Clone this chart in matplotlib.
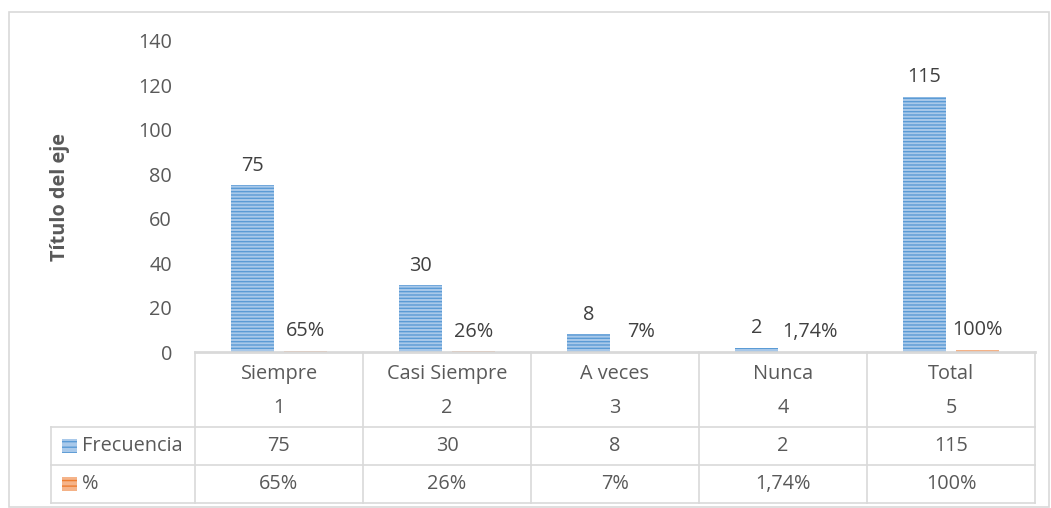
import matplotlib
matplotlib.use("Agg")
import matplotlib.pyplot as plt
from matplotlib.patches import Rectangle
from matplotlib.transforms import blended_transform_factory

categories = ["Siempre", "Casi Siempre", "A veces", "Nunca", "Total"]
numbers = ["1", "2", "3", "4", "5"]
frecuencia = [75, 30, 8, 2, 115]
porcentaje = [0.65, 0.26, 0.07, 0.0174, 1.0]
frec_labels = ["75", "30", "8", "2", "115"]
pct_labels = ["65%", "26%", "7%", "1,74%", "100%"]
series_names = ["Frecuencia", "%"]
yticks = [0, 20, 40, 60, 80, 100, 120, 140]

BLUE = "#5b9bd5"
BLUE_LIGHT = "#a9c9ea"
ORANGE = "#ed7d31"
ORANGE_LIGHT = "#f5b48a"
TXT = "#595959"
GRID = "#d9d9d9"
FONT = "Open Sans"
FS = 14.3

plt.rcParams["font.family"] = [FONT, "DejaVu Sans"]
plt.rcParams["hatch.linewidth"] = 1.0

W, H = 1051, 508
fig = plt.figure(figsize=(W / 100, H / 100), dpi=100)

def fx(x):
    return x / W

def fy(y):
    return 1 - y / H

# outer chart border
fig.patches.append(Rectangle((fx(9), fy(507)), fx(1049) - fx(9), fy(12) - fy(507),
                             transform=fig.transFigure, fill=False, edgecolor=GRID, lw=1.2))

left, right, top, bottom = 195, 1035, 41, 352
ax = fig.add_axes([fx(left), fy(bottom), fx(right) - fx(left), fy(top) - fy(bottom)])

x = list(range(len(categories)))
off = 0.158
bw = 0.256
b1 = ax.bar([i - off for i in x], frecuencia, width=bw, color=BLUE_LIGHT, edgecolor=BLUE,
            hatch="-----", linewidth=0)
b2 = ax.bar([i + off for i in x], porcentaje, width=bw, color=ORANGE_LIGHT, edgecolor=ORANGE,
            hatch="-----", linewidth=0)
ax.bar_label(b1, labels=frec_labels, padding=7, fontsize=FS, color="#404040")
ax.bar_label(b2, labels=pct_labels, padding=7, fontsize=FS, color="#404040")

ax.set_xlim(-0.5, len(categories) - 0.5)
ax.set_ylim(0, 140)
ax.set_yticks(yticks)
ax.set_yticklabels([str(v) for v in yticks], fontsize=FS, color=TXT)
ax.set_xticks([])
ax.tick_params(axis="y", length=0, pad=16.5)
for s in ["left", "right", "top"]:
    ax.spines[s].set_visible(False)
ax.spines["bottom"].set_color(GRID)
ax.spines["bottom"].set_linewidth(2)

fig.text(fx(60), fy(197), "Título del eje", rotation=90, ha="center", va="center",
         fontsize=FS, fontweight="bold", color=TXT)

# data table
tr = blended_transform_factory(ax.transData, fig.transFigure)
n = len(categories)
row_y = [352, 427, 465, 503]
for yy in row_y[1:]:
    fig.add_artist(plt.Line2D([fx(51), fx(right)], [fy(yy), fy(yy)], transform=fig.transFigure,
                              color=GRID, lw=1.2))
for i in range(n + 1):
    fig.add_artist(plt.Line2D([i - 0.5, i - 0.5], [fy(352), fy(503)], transform=tr,
                              color=GRID, lw=1.2))
fig.add_artist(plt.Line2D([fx(51), fx(51)], [fy(427), fy(503)], transform=fig.transFigure,
                          color=GRID, lw=1.2))

for i in range(n):
    fig.text(i, fy(374), categories[i], transform=tr, ha="center", va="center", fontsize=FS, color=TXT)
    fig.text(i, fy(408), numbers[i], transform=tr, ha="center", va="center", fontsize=FS, color=TXT)
    fig.text(i, fy(446), frec_labels[i], transform=tr, ha="center", va="center", fontsize=FS, color=TXT)
    fig.text(i, fy(484), pct_labels[i], transform=tr, ha="center", va="center", fontsize=FS, color=TXT)

# legend keys
for (yc, fc, ec, name) in [(446, BLUE_LIGHT, BLUE, series_names[0]), (484, ORANGE_LIGHT, ORANGE, series_names[1])]:
    fig.patches.append(Rectangle((fx(62), fy(yc + 7)), fx(77) - fx(62), fy(yc - 7) - fy(yc + 7),
                                 transform=fig.transFigure, facecolor=fc, edgecolor=ec,
                                 hatch="---", linewidth=0))
    fig.text(fx(82), fy(yc), name, ha="left", va="center", fontsize=FS, color=TXT)

fig.savefig("out.png", dpi=100, facecolor="white")
